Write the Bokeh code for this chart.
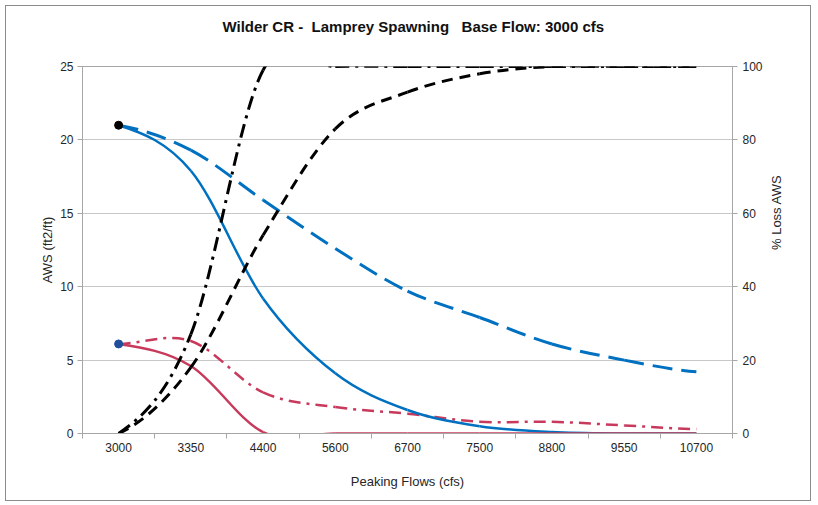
import math
from bokeh.plotting import figure
from bokeh.models import Range1d, LinearAxis, FixedTicker, Title
from bokeh.embed import file_html
from bokeh.resources import INLINE

# ---- data ----
flows = ["3000", "3350", "4400", "5600", "6700", "7500", "8800", "9550", "10700"]
aws_blue_solid = [21.0, 17.9, 9.2, 4.1, 1.6, 0.5, 0.1, 0.0, 0.0]
aws_blue_dashed = [21.0, 19.3, 15.9, 12.6, 9.7, 7.9, 6.1, 5.0, 4.2]
aws_red_solid = [6.1, 4.6, 0.1, 0.0, 0.0, 0.0, 0.0, 0.0, 0.0]
aws_red_dashdot = [6.1, 6.3, 2.8, 1.8, 1.35, 0.8, 0.8, 0.55, 0.3]
loss_black_dashdot = [0, 27, 99, 100, 100, 100, 100, 100, 100]
loss_black_dashed = [0, 18, 54, 83, 93, 98, 100, 100, 100]
title_text = "Wilder CR -\u00a0 Lamprey Spawning\u00a0\u00a0 Base Flow: 3000 cfs"

FONT = "Liberation Sans"
BLUE = "#0070C0"
RED = "#C73A5C"

p = figure(width=806, height=496, output_backend="svg", toolbar_location=None,
           x_range=Range1d(-0.5, 8.5), y_range=Range1d(0, 25),
           min_border_left=76, min_border_right=80, min_border_top=60,
           min_border_bottom=69)
p.extra_y_ranges = {"pct": Range1d(0, 100)}
p.styles = {"border": "1px solid #8c8c8c", "margin": "5px 0 0 5px"}

p.title.text = title_text
p.title.align = "left"
p.title.offset = 140
p.title.text_font = FONT
p.title.text_font_size = "15px"
p.title.text_font_style = "bold"
p.title.text_color = "#111111"
p.title.standoff = 10
# empty spacer between the title and the plot area
p.add_layout(Title(text=" ", text_font_size="10px", standoff=14), "above")

p.outline_line_color = "#A6A6A6"
p.xgrid.grid_line_color = None
p.ygrid.grid_line_color = "#C8C8C8"
p.ygrid.grid_line_width = 1

idx = list(range(len(flows)))

# x axis
xa = p.xaxis[0]
xa.ticker = FixedTicker(ticks=idx, minor_ticks=[i + 0.5 for i in range(-1, len(flows))])
xa.major_label_overrides = {i: f for i, f in enumerate(flows)}
xa.major_tick_line_color = None
xa.major_tick_out = 0
xa.major_tick_in = 0
xa.minor_tick_line_color = "#A6A6A6"
xa.minor_tick_out = 5
xa.minor_tick_in = 0
xa.major_label_standoff = 4
xa.axis_label = "Peaking Flows (cfs)"
xa.axis_label_standoff = 19

# left axis
ya = p.yaxis[0]
ya.ticker = FixedTicker(ticks=[0, 5, 10, 15, 20, 25])
ya.axis_label = "AWS (ft2/ft)"
ya.major_tick_out = 5
ya.major_tick_in = 0
ya.major_label_standoff = 4
ya.axis_label_standoff = 2
ya.minor_tick_line_color = None
ya.major_tick_line_color = "#A6A6A6"

# right axis
ra = LinearAxis(y_range_name="pct", ticker=FixedTicker(ticks=[0, 20, 40, 60, 80, 100]),
                axis_label="% Loss AWS")
ra.major_tick_out = 5
ra.major_tick_in = 0
ra.major_label_standoff = 5
ra.axis_label_standoff = 11
ra.axis_label_orientation = math.pi / 2
ra.minor_tick_line_color = None
ra.major_tick_line_color = "#A6A6A6"
p.add_layout(ra, "right")

for ax in [xa, ya, ra]:
    ax.axis_line_color = "#A6A6A6"
    ax.major_label_text_font = FONT
    ax.major_label_text_font_size = "12px"
    ax.major_label_text_color = "#262626"
    ax.axis_label_text_font = FONT
    ax.axis_label_text_font_size = "13px"
    ax.axis_label_text_font_style = "normal"
    ax.axis_label_text_color = "#262626"


def smooth_segments(ys):
    """Bezier control data for a smoothed (Catmull-Rom style) line through the points."""
    n = len(ys)
    m = []
    for i in range(n):
        a = ys[max(i - 1, 0)]
        b = ys[min(i + 1, n - 1)]
        m.append((b - a) / 2.0)
    seg = dict(x0=[], y0=[], x1=[], y1=[], cx0=[], cy0=[], cx1=[], cy1=[])
    for i in range(n - 1):
        seg["x0"].append(i)
        seg["y0"].append(ys[i])
        seg["x1"].append(i + 1)
        seg["y1"].append(ys[i + 1])
        seg["cx0"].append(i + 1 / 3)
        seg["cy0"].append(ys[i] + m[i] / 3)
        seg["cx1"].append(i + 1 - 1 / 3)
        seg["cy1"].append(ys[i + 1] - m[i + 1] / 3)
    return seg


def draw(ys, color, width, dash="solid", rng=None):
    kw = dict(line_color=color, line_width=width, line_dash=dash, line_cap="butt")
    if rng:
        kw["y_range_name"] = rng
    p.bezier(**smooth_segments(ys), **kw)


draw(aws_blue_dashed, BLUE, 3, "20 9")
draw(aws_red_dashdot, RED, 2.5, "12 6 3 6")
draw(aws_blue_solid, BLUE, 2.5)
draw(aws_red_solid, RED, 2.5)
draw(loss_black_dashed, "black", 3, "11 7", "pct")
draw(loss_black_dashdot, "black", 3, "14 6 3 6", "pct")

# start markers
p.scatter([idx[0]], [aws_blue_solid[0]], size=8, color="black")
p.scatter([idx[0]], [aws_red_solid[0]], size=8, color="#1F4E9A")

open("out.html", "w").write(file_html(p, INLINE))
